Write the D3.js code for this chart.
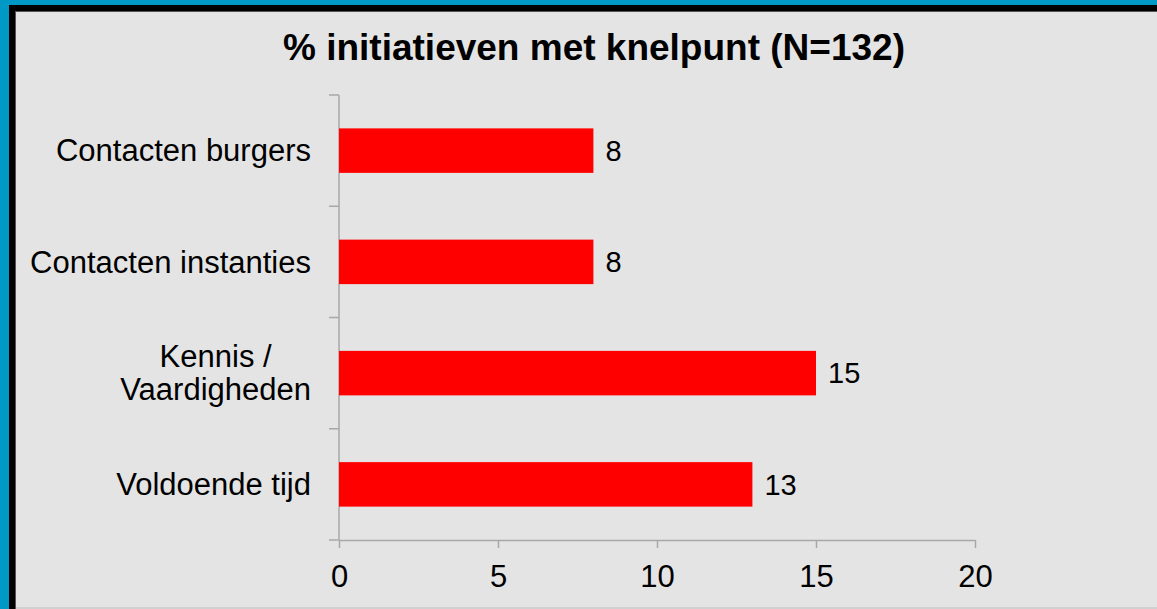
<!DOCTYPE html>
<html>
<head>
<meta charset="utf-8">
<title>% initiatieven met knelpunt</title>
<script src="https://cdn.jsdelivr.net/npm/d3@7/dist/d3.min.js"></script>
<style>
	body, html{
		margin: 0;
		padding: 0;
		background: #e4e4e4;
		overflow: hidden;
	}
	svg{
		display: block;
		font-family: 'Liberation Sans', Arial, sans-serif;
	}
</style>
</head>
<body>
<svg id="chart" width="1157" height="609"></svg>
<script>
	var title = '% initiatieven met knelpunt (N=132)',
		categories = ['Contacten burgers', 'Contacten instanties', 'Kennis /\nVaardigheden', 'Voldoende tijd'],
		values = [8, 8, 15, 13],
		xTicks = [0, 5, 10, 15, 20];

	var svg = d3.select('#chart'),
		axisColor = '#a8a8a8';

	// frame: blue outer edge, black inner edge
	svg.append('rect').attr('width', 1157).attr('height', 609).attr('fill', '#e4e4e4');
	svg.append('rect').attr('x', 0).attr('y', 0).attr('width', 9).attr('height', 609).attr('fill', '#0098c4');
	svg.append('rect').attr('x', 0).attr('y', 0).attr('width', 1157).attr('height', 5).attr('fill', '#0098c4');
	svg.append('rect').attr('x', 9).attr('y', 5).attr('width', 6).attr('height', 604).attr('fill', '#000');
	svg.append('rect').attr('x', 9).attr('y', 5).attr('width', 1148).attr('height', 6).attr('fill', '#000');
	svg.append('rect').attr('x', 15).attr('y', 11).attr('width', 1).attr('height', 598).attr('fill', '#555');
	svg.append('rect').attr('x', 15).attr('y', 11).attr('width', 1142).attr('height', 1).attr('fill', '#555');
	svg.append('rect').attr('x', 16).attr('y', 607).attr('width', 1141).attr('height', 2).attr('fill', '#d0d0d0');

	var x = d3.scaleLinear().domain([0, 20]).range([339, 975]),
		y = d3.scaleBand().domain(categories).range([95, 540]).padding(0);

	svg.append('text')
		.attr('x', 594)
		.attr('y', 60)
		.attr('text-anchor', 'middle')
		.attr('font-size', 37)
		.attr('font-weight', 'bold')
		.attr('fill', '#000')
		.text(title);

	// x axis
	var xAxis = svg.append('g')
		.attr('transform', 'translate(0,540)')
		.call(d3.axisBottom(x).tickValues(xTicks).tickSize(8).tickSizeOuter(0).tickPadding(17));
	xAxis.select('.domain').attr('stroke', axisColor).attr('stroke-width', 1.5);
	xAxis.selectAll('.tick line').attr('stroke', axisColor).attr('stroke-width', 1.5);
	xAxis.selectAll('.tick text')
		.attr('font-size', 31)
		.attr('font-family', 'Liberation Sans, Arial, sans-serif')
		.attr('fill', '#000');

	// y axis with ticks on the category boundaries
	var boundaries = categories.map(function (c) { return y(c); });
	boundaries.push(y(categories[categories.length - 1]) + y.bandwidth());
	svg.append('line')
		.attr('x1', x(0)).attr('x2', x(0))
		.attr('y1', y.range()[0]).attr('y2', y.range()[1])
		.attr('stroke', axisColor).attr('stroke-width', 1.5);
	svg.selectAll('.ytick')
		.data(boundaries)
		.enter().append('line')
		.attr('class', 'ytick')
		.attr('x1', x(0) - 10).attr('x2', x(0))
		.attr('y1', function (d) { return d; }).attr('y2', function (d) { return d; })
		.attr('stroke', axisColor).attr('stroke-width', 1.5);

	// bars
	var barH = y.bandwidth() * 0.4;
	svg.selectAll('.bar')
		.data(categories)
		.enter().append('rect')
		.attr('class', 'bar')
		.attr('x', x(0))
		.attr('y', function (d) { return y(d) + (y.bandwidth() - barH) / 2; })
		.attr('width', function (d, i) { return x(values[i]) - x(0); })
		.attr('height', barH)
		.attr('fill', '#ff0000');

	// value labels
	svg.selectAll('.val')
		.data(categories)
		.enter().append('text')
		.attr('class', 'val')
		.attr('x', function (d, i) { return x(values[i]) + 12; })
		.attr('y', function (d) { return y(d) + y.bandwidth() / 2; })
		.attr('dy', '0.35em')
		.attr('font-size', 29)
		.attr('fill', '#000')
		.text(function (d, i) { return values[i]; });

	// category labels, multi-line ones centred on the widest line
	svg.selectAll('.cat')
		.data(categories)
		.enter().append('text')
		.attr('class', 'cat')
		.attr('font-size', 31)
		.attr('fill', '#000')
		.each(function (d) {
			var lines = d.split('\n'),
				t = d3.select(this),
				cy = y(d) + y.bandwidth() / 2;
			if (lines.length === 1) {
				t.attr('x', 311).attr('y', cy).attr('dy', '0.35em').attr('text-anchor', 'end').text(d);
				return;
			}
			t.attr('text-anchor', 'middle');
			var spans = lines.map(function (l, i) {
				return t.append('tspan').attr('y', cy + (i - (lines.length - 1) / 2) * 33).attr('dy', '0.35em').text(l);
			});
			var w = d3.max(spans, function (s) { return s.node().getComputedTextLength(); });
			spans.forEach(function (s) { s.attr('x', 311 - w / 2); });
		});
</script>
</body>
</html>
